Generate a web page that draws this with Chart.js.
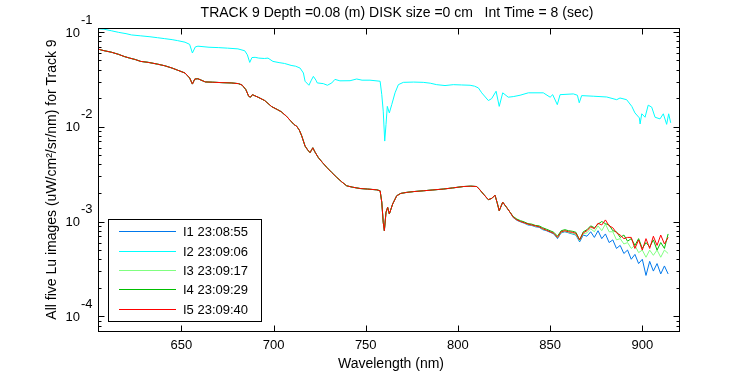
<!DOCTYPE html>
<html>
<head>
<meta charset="utf-8">
<script src="https://cdn.jsdelivr.net/npm/chart.js@4.4.0/dist/chart.umd.min.js"></script>
<style>
  html, body { margin: 0; padding: 0; background: #fff; }
  #wrap { width: 750px; height: 375px; }
</style>
</head>
<body>
<div id="wrap"><canvas id="luChart" width="750" height="375"></canvas></div>
<script>
// Datos (longitud de onda en nm, Lu en uW/cm2/sr/nm)
const titleText = 'TRACK 9 Depth =0.08 (m) DISK size =0 cm   Int Time = 8 (sec)';
const xTitle = 'Wavelength (nm)';
const yTitle = 'All five Lu images (uW/cm\u00B2/sr/nm) for Track 9';
const xTicks = [650, 700, 750, 800, 850, 900];
const yDecades = [-1, -2, -3, -4];
const seriesLabels = ['I1 23:08:55', 'I2 23:09:06', 'I3 23:09:17', 'I4 23:09:29', 'I5 23:09:40'];
const seriesColors = ['rgb(0,120,235)', 'rgb(0,255,255)', 'rgb(128,255,128)', 'rgb(0,190,0)', 'rgb(255,0,0)'];

// I2 (cian), la curva superior
const wlI2 = [605, 608, 612, 616, 620, 623, 628, 633, 637, 641, 645, 648, 652, 654.5, 656, 657.6, 659, 665, 670, 675,
  680.7, 684.4, 685.8, 687.1, 688.3, 690, 692, 695, 697, 699.7, 703, 706, 709.5, 712, 714.4, 716.2, 717.1, 719.2, 720.5, 721.6,
  723, 723.7, 727, 729.2, 731.6, 733.3, 736, 741.5, 745.1, 748, 752.3, 757.8, 758.7, 759.5, 760.3, 761, 761.7, 762.8, 764.1, 765.9,
  767.7, 770.4, 776, 781.2, 785, 788.5, 793, 797.5, 802, 806.6, 809, 811.1, 812.9, 816.5, 818.3, 820.7, 822.4, 824.3, 827.3, 830,
  833.7, 838.2, 846.3, 850, 851.4, 853.9, 855.4, 862.6, 864.8, 865.8, 867.1, 873.4, 880.7, 886.1, 887.9, 891.5, 894.3, 896, 898.4, 898.8,
  899.7, 901.5, 903.2, 905.1, 906.9, 909.6, 911.4, 913.2, 914.3, 915.4];
const luI2 = [0.108, 0.107, 0.103, 0.099, 0.096, 0.093, 0.091, 0.089, 0.087, 0.085, 0.083, 0.081, 0.078, 0.074, 0.060, 0.0696, 0.0708, 0.069, 0.0684, 0.0675,
  0.0663, 0.0633, 0.0574, 0.0477, 0.0537, 0.054, 0.053, 0.0525, 0.053, 0.0489, 0.0475, 0.0465, 0.0444, 0.0435, 0.0416, 0.0369, 0.0302, 0.0274, 0.031, 0.034,
  0.031, 0.029, 0.0285, 0.0274, 0.029, 0.0316, 0.0305, 0.0306, 0.0319, 0.031, 0.031, 0.0302, 0.0218, 0.0146, 0.00706, 0.01057, 0.0164, 0.014, 0.0171, 0.0228,
  0.0278, 0.0294, 0.0296, 0.0294, 0.0288, 0.0278, 0.0272, 0.0278, 0.0276, 0.0274, 0.0268, 0.0257, 0.0228, 0.0189, 0.0198, 0.0237, 0.0164, 0.0228, 0.0205, 0.0208,
  0.0215, 0.0228, 0.0228, 0.0205, 0.0218, 0.0171, 0.0218, 0.0222, 0.0215, 0.0179, 0.0213, 0.021, 0.0206, 0.0193, 0.0201, 0.0193, 0.0164, 0.014, 0.0124, 0.0107,
  0.0137, 0.0126, 0.0169, 0.0161, 0.0126, 0.0121, 0.0137, 0.0106, 0.0137, 0.011];

// Tramo comun de I1, I3, I4, I5 (se superponen hasta ~830 nm)
const wlCommon = [605, 608, 612, 616, 619, 622, 625, 628, 632, 637, 641, 645, 648, 652, 654.5, 656, 657.3, 659, 663, 667,
  672, 677, 681, 683, 685, 686.5, 687.5, 688.5, 691.6, 695.2, 699, 702, 704.2, 707, 709, 711, 712.6, 714, 715.3, 717.1,
  718.5, 719.8, 721.3, 722.5, 724.3, 726.5, 728.9, 731.5, 734.3, 737, 739.7, 743, 747, 751, 756, 757.8, 758.7, 759.5, 760.1, 761,
  761.9, 762.8, 764.6, 766.8, 769, 772.2, 776, 781.2, 786, 792, 797, 802.9, 807, 810.2, 812, 813.8, 816.5, 818.5, 820.1, 821.2,
  822.4, 824.3, 826.4, 828.3];
const luCommon = [0.0658, 0.0635, 0.0612, 0.058, 0.0551, 0.053, 0.0512, 0.0489, 0.0478, 0.0458, 0.044, 0.0416, 0.0395, 0.0369, 0.0327, 0.0282, 0.0319, 0.0321, 0.0297, 0.0295,
  0.0292, 0.029, 0.0285, 0.0275, 0.0246, 0.021, 0.0205, 0.0218, 0.0205, 0.0189, 0.0163, 0.0152, 0.0144, 0.0129, 0.0117, 0.0106, 0.0101, 0.0092, 0.008, 0.00625,
  0.0057, 0.00533, 0.006, 0.0054, 0.00473, 0.0042, 0.00372, 0.0033, 0.00292, 0.00262, 0.00238, 0.0023, 0.00223, 0.0022, 0.00216, 0.00211, 0.0016, 0.00098, 0.0008, 0.00125,
  0.00141, 0.0012, 0.00153, 0.00187, 0.00198, 0.00203, 0.00207, 0.00211, 0.00215, 0.0022, 0.00226, 0.00234, 0.00236, 0.00234, 0.00215, 0.00195, 0.0017, 0.00176, 0.0019, 0.0016,
  0.0013, 0.0016, 0.00141, 0.00125];

// Tramo final (830-914 nm), aqui las curvas se separan
const wlTail = [830, 832, 834, 836, 838, 840, 842, 844, 846, 848, 850, 852, 854, 856, 858, 860, 862, 864, 866, 868, 870, 872,
  874, 876, 878, 880, 882, 884, 886, 888, 890, 892, 894, 896, 898, 900, 902, 904, 906, 908, 910, 912, 914];
const luI1Tail = [0.0011, 0.00103, 0.00099, 0.00096, 0.00092, 0.00091, 0.00088, 0.00087, 0.00082, 0.0008, 0.00077, 0.00074, 0.00066, 0.00076, 0.00078, 0.00076, 0.00074, 0.00072, 0.00061, 0.00072, 0.0007, 0.00078,
  0.00068, 0.0008, 0.00066, 0.00074, 0.0006, 0.00064, 0.00052, 0.00056, 0.00046, 0.0005, 0.0004, 0.00045, 0.00036, 0.0004, 0.00027, 0.00038, 0.0003, 0.00036, 0.00028, 0.00034, 0.00028];
const luI3Tail = [0.00111, 0.00104, 0.001, 0.00097, 0.00093, 0.00092, 0.00089, 0.00088, 0.00083, 0.00081, 0.00078, 0.00075, 0.00067, 0.00077, 0.00079, 0.00077, 0.00075, 0.00073, 0.00063, 0.00074, 0.00076, 0.00084,
  0.00078, 0.0009, 0.0008, 0.00094, 0.00078, 0.00078, 0.00064, 0.00066, 0.00058, 0.0006, 0.00052, 0.00056, 0.00047, 0.0005, 0.00042, 0.0005, 0.00044, 0.0005, 0.00042, 0.0005, 0.00046];
const luI4Tail = [0.00113, 0.00106, 0.00102, 0.00099, 0.00095, 0.00094, 0.00091, 0.0009, 0.00086, 0.00083, 0.0008, 0.00077, 0.0007, 0.0008, 0.00082, 0.0008, 0.00079, 0.00077, 0.00064, 0.00078, 0.00082, 0.0009,
  0.00086, 0.00094, 0.001, 0.00095, 0.00092, 0.0008, 0.00078, 0.00068, 0.00072, 0.00062, 0.00066, 0.00056, 0.00066, 0.00052, 0.0006, 0.00054, 0.00064, 0.0005, 0.0006, 0.00052, 0.00074];
const luI5Tail = [0.00111, 0.00104, 0.001, 0.00097, 0.00094, 0.00092, 0.0009, 0.00088, 0.00084, 0.00081, 0.00078, 0.00075, 0.00068, 0.00078, 0.0008, 0.00078, 0.00077, 0.00075, 0.00064, 0.00076, 0.0008, 0.00088,
  0.00084, 0.00096, 0.00092, 0.00104, 0.0009, 0.00086, 0.00076, 0.00072, 0.00066, 0.00068, 0.00068, 0.00052, 0.00064, 0.0005, 0.00066, 0.00052, 0.0007, 0.00056, 0.00072, 0.00058, 0.00068];

// Rango de los ejes
const xMin = 604.8, xMax = 919.9;
const yMin = 7.3e-5, yMax = 0.1101;

const FONT = '13px "Liberation Sans", Arial, sans-serif';
const TITLE_FONT = '14px "Liberation Sans", Arial, sans-serif';

function toPoints(wl, lu) {
    return wl.map((w, i) => ({ x: w, y: lu[i] }));
}

const seriesData = [
    toPoints(wlCommon.concat(wlTail), luCommon.concat(luI1Tail)),
    toPoints(wlI2, luI2),
    toPoints(wlCommon.concat(wlTail), luCommon.concat(luI3Tail)),
    toPoints(wlCommon.concat(wlTail), luCommon.concat(luI4Tail)),
    toPoints(wlCommon.concat(wlTail), luCommon.concat(luI5Tail))
];

// Marco, ticks, etiquetas y leyenda al estilo MATLAB
const matlabFrame = {
    id: 'matlabFrame',
    afterDraw(chart) {
        const ctx = chart.ctx;
        const a = chart.chartArea;
        const xs = chart.scales.x;
        const ys = chart.scales.y;
        const L = Math.round(a.left) + 0.5, R = Math.round(a.right) + 0.5;
        const T = Math.round(a.top) + 0.5, B = Math.round(a.bottom) + 0.5;

        ctx.save();
        ctx.strokeStyle = '#000';
        ctx.lineWidth = 1;
        ctx.strokeRect(L, T, R - L, B - T);

        ctx.beginPath();
        // ticks en x (abajo y arriba)
        xTicks.forEach(v => {
            const px = Math.round(xs.getPixelForValue(v)) + 0.5;
            ctx.moveTo(px, B); ctx.lineTo(px, B - 6);
            ctx.moveTo(px, T); ctx.lineTo(px, T + 6);
        });
        // ticks en y, mayores y menores (log)
        for (let e = -5; e <= -1; e++) {
            for (let m = 1; m <= 9; m++) {
                const v = m * Math.pow(10, e);
                if (v < yMin || v > yMax) continue;
                const py = Math.round(ys.getPixelForValue(v)) + 0.5;
                const len = m === 1 ? 6 : 3;
                ctx.moveTo(L, py); ctx.lineTo(L + len, py);
                ctx.moveTo(R, py); ctx.lineTo(R - len, py);
            }
        }
        ctx.stroke();

        ctx.fillStyle = '#000';
        ctx.font = FONT;

        // etiquetas x
        ctx.textAlign = 'center';
        ctx.textBaseline = 'middle';
        xTicks.forEach(v => {
            ctx.fillText(String(v), xs.getPixelForValue(v), 345);
        });

        // etiquetas y: 10 con exponente
        yDecades.forEach(e => {
            const py = ys.getPixelForValue(Math.pow(10, e));
            ctx.textAlign = 'right';
            ctx.fillText('10', 80, py + 1);
            ctx.textAlign = 'left';
            ctx.fillText(String(e), 81, py - 12);
        });

        // titulos
        ctx.font = TITLE_FONT;
        ctx.textAlign = 'center';
        ctx.fillText(titleText, 397, 13);
        ctx.fillText(xTitle, 391, 364);
        ctx.save();
        ctx.translate(52, (a.top + a.bottom) / 2);
        ctx.rotate(-Math.PI / 2);
        ctx.fillText(yTitle, 0, 0);
        ctx.restore();

        // leyenda
        ctx.font = FONT;
        const lx = 108.5, ly = 219.5, lw = 153, lh = 102;
        ctx.fillStyle = '#fff';
        ctx.fillRect(lx, ly, lw, lh);
        ctx.strokeStyle = '#000';
        ctx.strokeRect(lx, ly, lw, lh);
        const rows = [231, 251, 270, 289, 309];
        seriesLabels.forEach((label, i) => {
            ctx.strokeStyle = seriesColors[i];
            ctx.beginPath();
            ctx.moveTo(119, rows[i] + 0.5);
            ctx.lineTo(176, rows[i] + 0.5);
            ctx.stroke();
            ctx.fillStyle = '#000';
            ctx.textAlign = 'left';
            ctx.fillText(label, 183, rows[i] + 1);
        });
        ctx.restore();
    }
};

function createLuChart() {
    const canvas = document.getElementById('luChart');
    const ctx = canvas.getContext('2d');

    return new Chart(ctx, {
        type: 'line',
        data: {
            datasets: seriesLabels.map((label, i) => ({
                label: label,
                data: seriesData[i],
                borderColor: seriesColors[i],
                backgroundColor: seriesColors[i],
                borderWidth: 1,
                pointRadius: 0,
                tension: 0,
                fill: false,
                // I5 (rojo) queda encima, como en la figura original
                order: seriesLabels.length - i
            }))
        },
        options: {
            responsive: false,
            animation: false,
            devicePixelRatio: 1,
            layout: { padding: { left: 0, right: 71, top: 28, bottom: 0 } },
            plugins: {
                legend: { display: false },
                tooltip: { enabled: false }
            },
            scales: {
                x: {
                    type: 'linear',
                    min: xMin,
                    max: xMax,
                    grid: { display: false },
                    border: { display: false },
                    ticks: { display: false },
                    afterFit: (scale) => { scale.height = 44; }
                },
                y: {
                    type: 'logarithmic',
                    min: yMin,
                    max: yMax,
                    grid: { display: false },
                    border: { display: false },
                    ticks: { display: false },
                    afterFit: (scale) => { scale.width = 98; }
                }
            }
        },
        plugins: [matlabFrame]
    });
}

createLuChart();
</script>
</body>
</html>
